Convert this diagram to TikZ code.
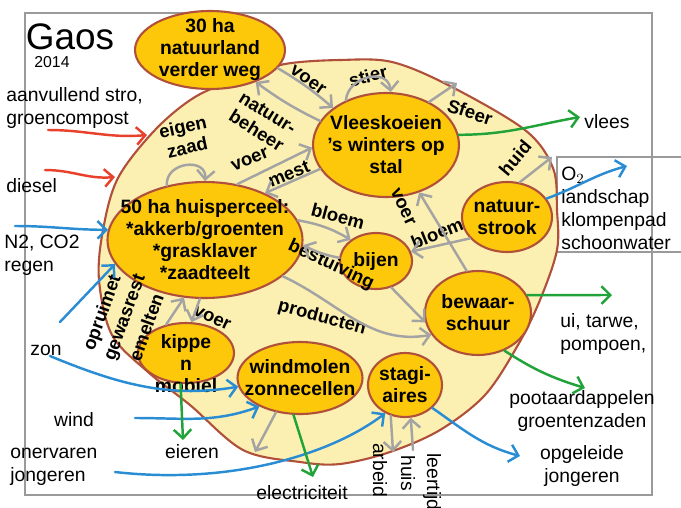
\documentclass[tikz,border=0pt]{standalone}
\usepackage{fontspec}
\setmainfont{Liberation Sans}
\usepackage{tikz}
\usetikzlibrary{positioning}
\usetikzlibrary{shapes.geometric}
\usetikzlibrary{arrows.meta}

\definecolor{framegray}{HTML}{9A9A9A}
\definecolor{paleyellow}{HTML}{FBF0B2}
\definecolor{rimbrown}{HTML}{B0503A}
\definecolor{blobgold}{HTML}{FDC80A}
\definecolor{arrowgray}{HTML}{A3A3A3}
\definecolor{flowred}{HTML}{E8412C}
\definecolor{flowblue}{HTML}{2A8DD4}
\definecolor{flowgreen}{HTML}{21A339}

\begin{document}
\begin{tikzpicture}[
        x = 0.02cm,
        y = -0.02cm,
        blob/.style = {
            ellipse,
            draw = rimbrown,
            fill = blobgold,
            line width = 1.2pt,
            inner sep = 0pt
        },
        core/.style = {
            font = \bfseries\fontsize{11}{12.5}\selectfont,
            align = center,
            inner sep = 0pt
        },
        tag/.style = {
            font = \bfseries\fontsize{10.5}{12}\selectfont,
            align = center,
            inner sep = 0pt
        },
        side/.style = {
            font = \fontsize{11}{13}\selectfont,
            align = left,
            inner sep = 0pt
        },
        flow/.style = {
            draw = #1,
            -{Straight Barb[length=5pt, width=10pt]},
            line width = 1.4pt,
            line cap = round
        },
        flow/.default = arrowgray
        ]
        \useasboundingbox (0,0) rectangle (681,508);
%
        \draw[framegray, line width=1pt] (25,13) rectangle (652,495);
        \draw[framegray, line width=1pt] (681,157) -- (557,157) -- (557,252) -- (681,252);
%
        \draw[rimbrown, fill=paleyellow, line width=1.2pt] plot[smooth cycle, tension=0.55] coordinates {
            (557,250) (540,300) (518,345) (485,395) (440,430) (390,452) (340,464)
            (300,462) (243,450) (190,405) (148,372) (112,335) (99,280) (103,230)
            (118,178) (155,130) (195,97) (240,78) (285,64) (340,60) (392,62)
            (450,86) (525,130) (553,168) (557,210)};
%
        \node[blob, minimum width=3cm, minimum height=1.56cm,
              label={[core]center:{30 ha\\natuurland\\verder weg}}] (wild) at (210,50) {};
        \node[blob, minimum width=2.92cm, minimum height=2.08cm,
              label={[core]center:{Vleeskoeien\\'s winters op\\stal}}] (koeien) at (386,145) {};
        \node[blob, minimum width=3.9cm, minimum height=2.32cm,
              label={[core]center:{50 ha huisperceel:\\*akkerb/groenten\\*grasklaver\\*zaadteelt}}] (perceel) at (205,240) {};
        \node[blob, minimum width=1.44cm, minimum height=1.12cm,
              label={[core]center:{bijen}}] (bijen) at (376,261) {};
        \node[blob, minimum width=1.8cm, minimum height=1.4cm,
              label={[core]center:{natuur-\\strook}}] (strook) at (507,217) {};
        \node[blob, minimum width=2.12cm, minimum height=1.68cm,
              label={[core]center:{bewaar-\\schuur}}] (schuur) at (478,313) {};
        \node[blob, minimum width=1.92cm, minimum height=1.2cm,
              label={[core, yshift=-6pt]center:{kippe\\n\\mobiel}}] (kip) at (186,353) {};
        \node[blob, minimum width=2.5cm, minimum height=1.44cm,
              label={[core]center:{windmolen\\zonnecellen}}] (molen) at (300,378) {};
        \node[blob, minimum width=1.48cm, minimum height=1.28cm,
              label={[core]center:{stagi-\\aires}}] (stagi) at (405,385) {};
%
% titel en teksten buiten
        \node[font=\fontsize{21}{21}\selectfont, inner sep=0pt] (titel) at (70,37) {Gaos};
        \node[font=\fontsize{9}{9}\selectfont, inner sep=0pt] (jaar) at (52,62) {2014};
        \node[side, anchor=north west] (stro) at (6,87) {aanvullend stro,\\groencompost};
        \node[side, anchor=west] (diesel) at (6,186) {diesel};
        \node[side, anchor=west] (n2) at (4,255) {N2, CO2\\regen};
        \node[side, anchor=west] (zon) at (30,350) {zon};
        \node[side] (wind) at (74,420) {wind};
        \node[side, anchor=west] (onervaren) at (10,467) {onervaren\\jongeren};
        \node[side] (eieren) at (192,452) {eieren};
        \node[side] (stroom) at (302,493) {electriciteit};
        \node[side, rotate=-90] (arbeid) at (380,470) {arbeid};
        \node[side, rotate=-90] (huis) at (408,473) {huis};
        \node[side, rotate=-90] (leertijd) at (432,482) {leertijd};
        \node[side, align=center] (opgeleid) at (582,466) {opgeleide\\jongeren};
        \node[side, align=center] (poot) at (582,411) {pootaardappelen\\groentenzaden};
        \node[side, anchor=west] (gewas) at (560,334) {ui, tarwe,\\pompoen,};
        \node[side] (vlees) at (607,122) {vlees};
        \node[side, anchor=north west] (lucht) at (561,167) {O$_2$\\landschap\\klompenpad\\schoonwater};
%
% teksten bij de pijlen
        \node[tag, rotate=-35] (voerwild) at (308,80) {voer};
        \node[tag, rotate=15] (stier) at (368,76) {stier};
        \node[tag, rotate=-18] (sfeer) at (470,112) {Sfeer};
        \node[tag, rotate=-32] (beheer) at (262,122) {natuur-\\beheer};
        \node[tag, rotate=12] (zaad) at (185,137) {eigen\\zaad};
        \node[tag, rotate=22] (voerveld) at (250,160) {voer};
        \node[tag, rotate=22] (mest) at (289,174) {mest};
        \node[tag, rotate=-15] (bloemveld) at (338,216) {bloem};
        \node[tag, rotate=-25] (bestuiving) at (331,265) {bestuiving};
        \node[tag, rotate=-65] (voerschuur) at (403,207) {voer};
        \node[tag, rotate=22] (bloemstrook) at (437,233) {bloem};
        \node[tag, rotate=50] (huid) at (515,158) {huid};
        \node[tag, rotate=-15] (producten) at (322,318) {producten};
        \node[tag, rotate=-25] (voerkip) at (212,318) {voer};
        \node[tag, rotate=70] (opruim) at (103,313) {opruimet};
        \node[tag, rotate=70] (gewasrest) at (126,318) {gewasrest};
        \node[tag, rotate=70] (emelten) at (146,327) {emelten};
%
% losse eindpunten
        \coordinate (strotail) at (48,130);
        \coordinate (strotip) at (147,135);
        \coordinate (dieseltail) at (45,170);
        \coordinate (dieseltip) at (115,177);
        \coordinate (regentail) at (15,226);
        \coordinate (zontail) at (60,322);
        \coordinate (licht) at (50,356);
        \coordinate (windtail) at (135,418);
        \coordinate (newtail) at (115,472);
        \coordinate (leavetip) at (520,456);
        \coordinate (airtip) at (627,166);
        \coordinate (meattip) at (580,117);
        \coordinate (cropstip) at (612,295);
        \coordinate (seedtip) at (585,388);
        \coordinate (eggtip) at (183,440);
        \coordinate (powertip) at (313,477);
        \coordinate (moodtip) at (457,83);
        \coordinate (gridtip) at (255,452);
        \coordinate (worktip) at (393,452);
        \coordinate (hometail) at (413,450);
        \coordinate (hidetip) at (552,157);
%
% rood
        \draw[flow=flowred] (strotail) to[out=0, in=185] (strotip);
        \draw[flow=flowred] (dieseltail) to[out=0, in=185] (dieseltip);
% blauw
        \draw[flow=flowblue] (regentail) to[out=0, in=180] (perceel.174);
        \draw[flow=flowblue] (zontail) -- (perceel.195);
        \draw[flow=flowblue] (licht) .. controls (120,385) and (170,398) .. (molen.188);
        \draw[flow=flowblue] (windtail) to[out=0, in=200] (molen.215);
        \draw[flow=flowblue] (newtail) .. controls (230,485) and (330,455) .. (stagi.235);
        \draw[flow=flowblue] (stagi.-40) to[out=-35, in=165] (leavetip);
        \draw[flow=flowblue] (strook.25) to[out=20, in=195] (airtip);
% groen
        \draw[flow=flowgreen] (koeien.8) to[out=0, in=190] (meattip);
        \draw[flow=flowgreen] (schuur.20) -- (cropstip);
        \draw[flow=flowgreen] (schuur.-55) to[bend right=8] (seedtip);
        \draw[flow=flowgreen] (kip.-100) -- (eggtip);
        \draw[flow=flowgreen] (molen.-100) -- (powertip);
% grijs
        \draw[flow] (wild.-15) to[bend left=5] (koeien.145);
        \draw[flow] (koeien.160) to[bend left=5] (wild.-35);
        \draw[flow] (koeien.132) to[out=85, in=95, looseness=1.4] (koeien.85);
        \draw[flow] (koeien.45) -- (moodtip);
        \draw[flow] (perceel.125) to[out=95, in=85, looseness=1.6] (perceel.90);
        \draw[flow] (perceel.60) -- (koeien.182);
        \draw[flow] (koeien.200) -- (perceel.38);
        \draw[flow] (perceel.12) to[bend left=10] (bijen.140);
        \draw[flow] (bijen.175) to[bend left=8] (perceel.-3);
        \draw[flow] (strook.210) -- (bijen.15);
        \draw[flow] (schuur.105) -- (koeien.-55);
        \draw[flow] (perceel.-25) to[out=-25, in=190] (schuur.205);
        \draw[flow] (bijen.-60) -- (schuur.190);
        \draw[flow] (perceel.-95) -- (kip.80);
        \draw[flow] (kip.125) -- (perceel.-110);
        \draw[flow] (molen.-125) -- (gridtip);
        \draw[flow] (stagi.-115) -- (worktip);
        \draw[flow] (hometail) -- (stagi.-80);
        \draw[flow] (strook.70) -- (hidetip);
%
\end{tikzpicture}
\end{document}
